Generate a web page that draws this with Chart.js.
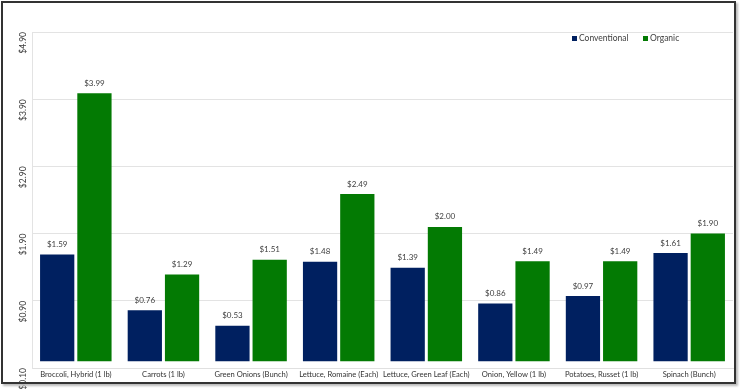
<!DOCTYPE html>
<html>
<head>
<meta charset="utf-8">
<script src="https://cdn.jsdelivr.net/npm/chart.js@4.4.0/dist/chart.umd.min.js"></script>
<style>
  html, body { margin: 0; padding: 0; background: #fff; }
  #wrap { position: relative; width: 744px; height: 389px; }
  #frame {
    position: absolute; left: 1px; top: 1px; width: 731px; height: 379px;
    border: 2px solid #333; box-shadow: 2px 2px 2px #bbb; pointer-events: none;
  }
  canvas { position: absolute; left: 0; top: 0; }
</style>
</head>
<body>
<div id="wrap">
  <canvas id="chart" width="744" height="389"></canvas>
  <div id="frame"></div>
</div>
<script>
const categories = ["Broccoli, Hybrid (1 lb)", "Carrots (1 lb)", "Green Onions (Bunch)", "Lettuce, Romaine (Each)",
  "Lettuce, Green Leaf (Each)", "Onion, Yellow (1 lb)", "Potatoes, Russet (1 lb)", "Spinach (Bunch)"];
const conventional = [1.59, 0.76, 0.53, 1.48, 1.39, 0.86, 0.97, 1.61];
const organic = [3.99, 1.29, 1.51, 2.49, 2.00, 1.49, 1.49, 1.90];
const seriesNames = ["Conventional", "Organic"];
const colors = ["#002060", "#037A03"];

const money = v => (v < 0 ? "-" : "") + "$" + Math.abs(v).toFixed(2);

// value labels above bars + legend inside plot
const labelsPlugin = {
  id: "labels",
  afterDatasetsDraw(chart) {
    const ctx = chart.ctx;
    ctx.save();
    ctx.font = "8px Lato";
    ctx.fillStyle = "#404040";
    ctx.textAlign = "center";
    ctx.textBaseline = "bottom";
    chart.data.datasets.forEach((ds, i) => {
      chart.getDatasetMeta(i).data.forEach((bar, j) => {
        ctx.fillText(money(ds.data[j]), bar.x, bar.y - 6);
      });
    });
    // legend
    ctx.font = "8.5px Lato";
    ctx.textAlign = "left";
    ctx.textBaseline = "middle";
    const pos = [572, 643];
    seriesNames.forEach((name, i) => {
      ctx.fillStyle = colors[i];
      ctx.fillRect(pos[i], 36, 5, 5);
      ctx.fillStyle = "#404040";
      ctx.fillText(name, pos[i] + 7, 38.5);
    });
    ctx.restore();
  }
};

new Chart(document.getElementById("chart"), {
  type: "bar",
  data: {
    labels: categories,
    datasets: [
      { label: seriesNames[0], data: conventional, backgroundColor: colors[0] },
      { label: seriesNames[1], data: organic, backgroundColor: colors[1] }
    ]
  },
  options: {
    responsive: false,
    animation: false,
    layout: { padding: { left: 8, right: 11, top: 32, bottom: 1 } },
    datasets: { bar: { categoryPercentage: 0.85, barPercentage: 0.92 } },
    plugins: { legend: { display: false }, tooltip: { enabled: false } },
    scales: {
      x: {
        grid: { display: false, drawTicks: false },
        border: { color: "#e0e0e0" },
        ticks: { color: "#333", font: { family: "Lato", size: 7.6 }, maxRotation: 0, minRotation: 0, padding: 2, autoSkip: false },
        afterFit(s) { s.height = 20; s.paddingLeft = 0; s.paddingRight = 0; }
      },
      y: {
        min: -0.1, max: 4.9,
        grid: { color: "#e3e3e3", drawTicks: false },
        border: { color: "#e3e3e3" },
        ticks: {
          stepSize: 1, minRotation: 90, maxRotation: 90,
          color: "#404040", font: { family: "Lato", size: 8.5 }, padding: 9,
          callback: v => money(v)
        },
        afterFit(s) { s.width = 24; s.paddingTop = 0; s.paddingBottom = 0; }
      }
    }
  },
  plugins: [labelsPlugin]
});
</script>
</body>
</html>
